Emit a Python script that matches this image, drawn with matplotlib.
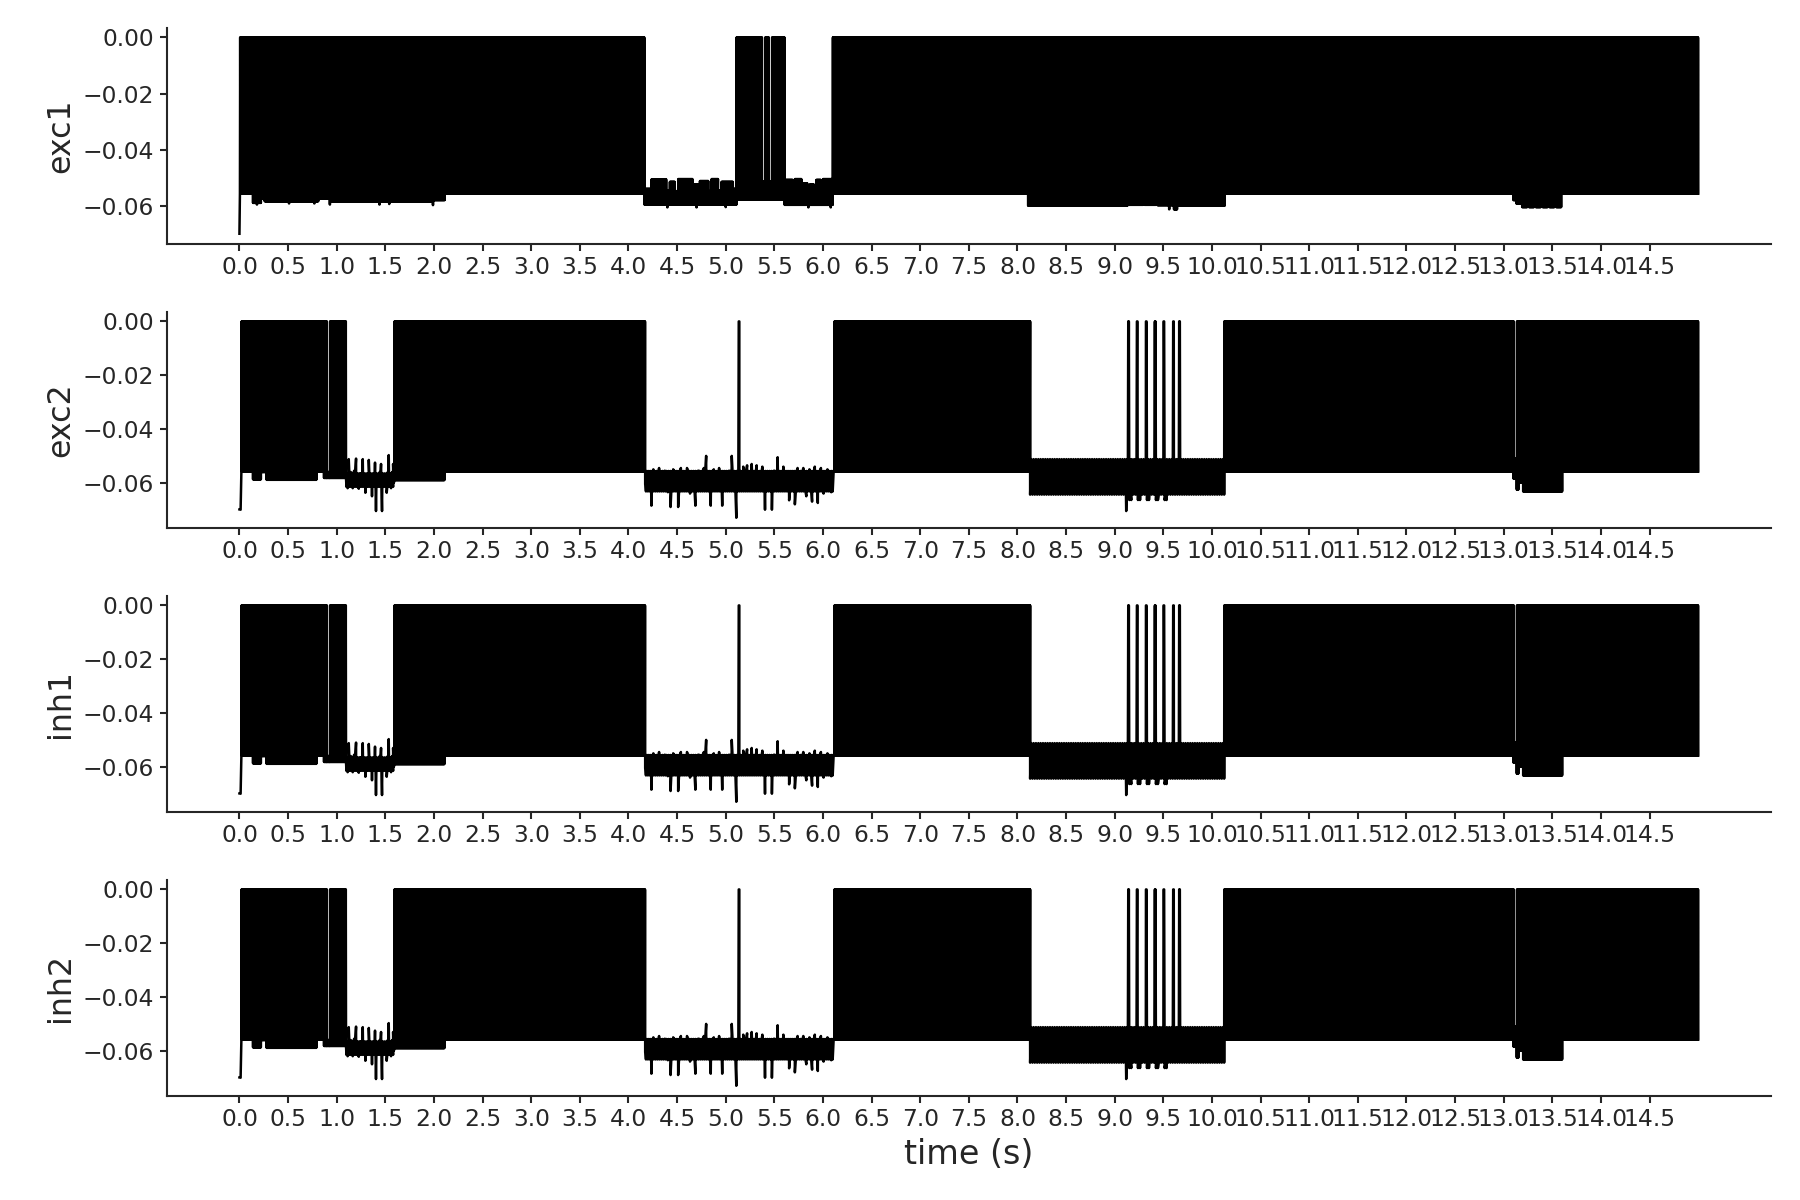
import numpy as np
import matplotlib
matplotlib.use('Agg')
import matplotlib.pyplot as plt
from matplotlib.ticker import MultipleLocator

# membrane traces.
# fire: dense spiking (t0, t1, trough, peak) -> looks like a solid block
# osc:  slower sub-threshold oscillation (t0, t1, low, high)
# pts:  single (t, v) points: start value, dips, wiggles

FIRE_STEP = 0.0025
OSC_STEP = 0.012
CORE_STEP = 0.010

exc1_fire = [
    (0.005, 0.14, -0.0557, 0.0), (0.14, 0.22, -0.0590, 0.0), (0.22, 0.26, -0.0575, 0.0),
    (0.26, 0.81, -0.0584, 0.0), (0.81, 0.93, -0.0575, 0.0), (0.93, 1.99, -0.0586, 0.0),
    (1.99, 2.11, -0.0580, 0.0), (2.11, 4.165, -0.0557, 0.0),
    # quiet band 4.17 - 5.11
    (4.165, 4.236, -0.0596, -0.0540), (4.236, 4.39, -0.0596, -0.0506),
    (4.39, 4.424, -0.0596, -0.0545), (4.424, 4.476, -0.0596, -0.0515),
    (4.476, 4.51, -0.0596, -0.0548), (4.51, 4.66, -0.0596, -0.0505),
    (4.66, 4.733, -0.0596, -0.0525), (4.733, 4.82, -0.0596, -0.0512),
    (4.82, 4.853, -0.0596, -0.0548), (4.853, 4.92, -0.0596, -0.0505),
    (4.92, 4.955, -0.0596, -0.0545), (4.955, 5.075, -0.0596, -0.0515),
    (5.075, 5.11, -0.0596, -0.0540),
    # short burst with two pauses
    (5.11, 5.372, -0.0578, 0.0), (5.372, 5.405, -0.0578, -0.0515), (5.405, 5.442, -0.0578, 0.0),
    (5.442, 5.475, -0.0578, -0.0515), (5.475, 5.606, -0.0578, 0.0),
    # quiet band 5.61 - 6.10
    (5.606, 5.69, -0.0597, -0.0508), (5.69, 5.71, -0.0597, -0.0550),
    (5.71, 5.78, -0.0597, -0.0505), (5.78, 5.84, -0.0597, -0.0520),
    (5.84, 5.86, -0.0597, -0.0552), (5.86, 5.91, -0.0597, -0.0525),
    (5.91, 5.93, -0.0597, -0.0552), (5.93, 5.98, -0.0597, -0.0508),
    (5.98, 6.0, -0.0597, -0.0550), (6.0, 6.10, -0.0597, -0.0505),
    # firing to the end
    (6.10, 8.11, -0.0557, 0.0), (8.11, 9.13, -0.0600, 0.0), (9.13, 9.15, -0.0560, 0.0),
    (9.15, 9.29, -0.0597, 0.0), (9.29, 9.31, -0.0562, 0.0), (9.31, 9.42, -0.0597, 0.0),
    (9.42, 9.44, -0.0560, 0.0), (9.44, 9.61, -0.0598, 0.0), (9.61, 9.64, -0.0613, 0.0),
    (9.64, 10.13, -0.0600, 0.0), (10.13, 13.10, -0.0557, 0.0), (13.10, 13.13, -0.0580, 0.0),
    (13.13, 13.19, -0.0592, 0.0), (13.19, 13.24, -0.0605, 0.0), (13.24, 13.26, -0.0578, 0.0),
    (13.26, 13.31, -0.0605, 0.0), (13.31, 13.33, -0.0578, 0.0), (13.33, 13.38, -0.0605, 0.0),
    (13.38, 13.40, -0.0578, 0.0), (13.40, 13.45, -0.0605, 0.0), (13.45, 13.47, -0.0578, 0.0),
    (13.47, 13.52, -0.0605, 0.0), (13.52, 13.54, -0.0578, 0.0), (13.54, 13.59, -0.0605, 0.0),
    (13.59, 15.0, -0.0557, 0.0),
]
exc1_osc = []
exc1_core = []
exc1_spikes = []
exc1_pts = [
    (0.0, -0.0700), (0.18, -0.0596), (0.51, -0.0592), (0.77, -0.0592), (0.93, -0.0596),
    (1.44, -0.0596), (1.54, -0.0594), (1.99, -0.0598), (4.40, -0.0606), (4.70, -0.0606),
    (5.00, -0.0605), (5.85, -0.0606), (6.08, -0.0606), (9.56, -0.0613),
]

exc2_fire = [
    (0.02, 0.14, -0.0558, 0.0), (0.14, 0.22, -0.0587, 0.0), (0.22, 0.28, -0.0560, 0.0),
    (0.28, 0.79, -0.0589, 0.0), (0.79, 0.87, -0.0558, 0.0), (0.87, 0.898, -0.0582, 0.0),
    (0.898, 0.930, -0.0582, -0.0560), (0.930, 1.096, -0.0582, 0.0),
    (1.593, 2.107, -0.0590, 0.0), (2.107, 4.17, -0.0558, 0.0),
    (6.117, 8.13, -0.0558, 0.0),
    (10.125, 13.102, -0.0558, 0.0), (13.102, 13.134, -0.0585, -0.0510),
    (13.134, 13.15, -0.0625, 0.0), (13.15, 13.20, -0.0598, 0.0),
    (13.20, 13.60, -0.0632, 0.0), (13.60, 15.0, -0.0558, 0.0),
]
exc2_osc = [(8.13, 10.125, -0.0644, -0.0512)]
# middle of the sub-threshold wiggles
exc2_core = [(1.10, 1.59, -0.0615, -0.0565), (4.18, 6.11, -0.0632, -0.0556)]
exc2_spikes = [5.137, 9.142, 9.231, 9.324, 9.416, 9.505, 9.604, 9.666]
exc2_pts = [
    (0.0, -0.0699), (0.012, -0.0700),
    # pause 1.10 - 1.59
    (1.100, -0.0600), (1.112, -0.0620), (1.124, -0.0512), (1.135, -0.0590), (1.145, -0.0560),
    (1.165, -0.0620), (1.180, -0.0555), (1.199, -0.0510), (1.212, -0.0605), (1.227, -0.0622),
    (1.240, -0.0565), (1.252, -0.0600), (1.268, -0.0512), (1.282, -0.0600), (1.295, -0.0637),
    (1.310, -0.0570), (1.330, -0.0515), (1.345, -0.0605), (1.363, -0.0650), (1.378, -0.0575),
    (1.394, -0.0525), (1.404, -0.0705), (1.418, -0.0585), (1.430, -0.0610), (1.442, -0.0560),
    (1.456, -0.0530), (1.466, -0.0705), (1.480, -0.0590), (1.495, -0.0610), (1.514, -0.0637),
    (1.525, -0.0560), (1.535, -0.0497), (1.547, -0.0600), (1.559, -0.0620), (1.570, -0.0560),
    (1.580, -0.0530), (1.588, -0.0600),
    # pause 4.17 - 6.11
    (4.172, -0.0605), (4.190, -0.0625), (4.236, -0.0685), (4.256, -0.0550), (4.270, -0.0600),
    (4.287, -0.0605), (4.300, -0.0560), (4.315, -0.0545), (4.342, -0.0610), (4.358, -0.0575),
    (4.374, -0.0555), (4.405, -0.0635), (4.433, -0.0690), (4.446, -0.0580), (4.460, -0.0550),
    (4.476, -0.0600), (4.492, -0.0625), (4.511, -0.0690), (4.525, -0.0570), (4.539, -0.0545),
    (4.555, -0.0600), (4.570, -0.0610), (4.586, -0.0570), (4.602, -0.0545), (4.620, -0.0620),
    (4.633, -0.0640), (4.645, -0.0580), (4.657, -0.0560), (4.672, -0.0620), (4.688, -0.0685),
    (4.705, -0.0580), (4.720, -0.0555), (4.733, -0.0600), (4.747, -0.0610), (4.760, -0.0565),
    (4.775, -0.0545), (4.799, -0.0500), (4.810, -0.0590), (4.822, -0.0620), (4.846, -0.0685),
    (4.862, -0.0570), (4.877, -0.0550), (4.890, -0.0600), (4.905, -0.0620), (4.918, -0.0570),
    (4.932, -0.0545), (4.948, -0.0610), (4.964, -0.0685), (4.980, -0.0580), (4.995, -0.0570),
    (5.015, -0.0610), (5.035, -0.0555), (5.062, -0.0500), (5.072, -0.0590), (5.082, -0.0605),
    (5.096, -0.0580), (5.109, -0.0730), (5.120, -0.0590), (5.160, -0.0610),
    (5.180, -0.0540), (5.200, -0.0600), (5.220, -0.0535), (5.239, -0.0610), (5.253, -0.0570),
    (5.267, -0.0530), (5.280, -0.0615), (5.294, -0.0600), (5.306, -0.0560), (5.318, -0.0535),
    (5.335, -0.0615), (5.349, -0.0595), (5.362, -0.0560), (5.377, -0.0540), (5.404, -0.0700),
    (5.418, -0.0580), (5.428, -0.0560), (5.444, -0.0610), (5.452, -0.0620), (5.475, -0.0700),
    (5.488, -0.0575), (5.499, -0.0555), (5.516, -0.0600), (5.534, -0.0505), (5.548, -0.0590),
    (5.562, -0.0605), (5.578, -0.0570), (5.593, -0.0540), (5.607, -0.0600), (5.621, -0.0605),
    (5.636, -0.0630), (5.652, -0.0665), (5.666, -0.0590), (5.680, -0.0560), (5.695, -0.0620),
    (5.711, -0.0680), (5.725, -0.0580), (5.739, -0.0545), (5.755, -0.0600), (5.770, -0.0605),
    (5.784, -0.0570), (5.798, -0.0545), (5.815, -0.0620), (5.829, -0.0650), (5.845, -0.0580),
    (5.861, -0.0550), (5.875, -0.0620), (5.888, -0.0670), (5.902, -0.0580), (5.916, -0.0540),
    (5.932, -0.0610), (5.947, -0.0675), (5.963, -0.0580), (5.979, -0.0545), (5.993, -0.0600),
    (6.006, -0.0640), (6.026, -0.0590), (6.046, -0.0550), (6.066, -0.0610), (6.085, -0.0635),
    (6.100, -0.0600), (6.110, -0.0555),
    # burst of spikes 9.1 - 9.7
    (9.112, -0.0560), (9.118, -0.0705), (9.126, -0.0600),
    (9.150, -0.0664), (9.170, -0.0664), (9.239, -0.0664), (9.260, -0.0664),
    (9.332, -0.0664), (9.352, -0.0664), (9.424, -0.0664), (9.444, -0.0664),
    (9.513, -0.0664), (9.533, -0.0664), (9.612, -0.0580), (9.624, -0.0600),
    (9.676, -0.0580), (9.690, -0.0600), (9.700, -0.0640),
]

# inh1 and inh2 can't be told apart from exc2 at this resolution
panels = [
    ('exc1', exc1_fire, exc1_osc, exc1_core, exc1_pts, exc1_spikes),
    ('exc2', exc2_fire, exc2_osc, exc2_core, exc2_pts, exc2_spikes),
    ('inh1', exc2_fire, exc2_osc, exc2_core, exc2_pts, exc2_spikes),
    ('inh2', exc2_fire, exc2_osc, exc2_core, exc2_pts, exc2_spikes),
]


def zigzag(t0, t1, lo, hi, step):
    n = max(int(round((t1 - t0) / step)), 1)
    t = np.linspace(t0, t1, n + 1)
    v = np.where(np.arange(n + 1) % 2 == 0, lo, hi)
    return t, v


def build_trace(fire, osc, core, pts, spikes):
    ts, vs = [], []
    for segs, step in ((fire, FIRE_STEP), (osc, OSC_STEP), (core, CORE_STEP)):
        for seg in segs:
            t, v = zigzag(*seg, step)
            ts.append(t); vs.append(v)
    for s in spikes:
        ts.append(np.array([s - 0.007, s - 0.003, s + 0.003, s + 0.007]))
        vs.append(np.array([-0.0570, 0.0, 0.0, -0.0600]))
    if pts:
        p = np.array(pts)
        ts.append(p[:, 0]); vs.append(p[:, 1])
    t = np.concatenate(ts)
    v = np.concatenate(vs)
    order = np.argsort(t, kind='stable')
    return t[order], v[order]


dark = '#262626'
fig, axes = plt.subplots(4, 1, figsize=(15, 10), dpi=120)
fig.subplots_adjust(left=0.0925, right=0.984, top=0.977, bottom=0.087, hspace=0.315)

for ax, (name, fire, osc, core, pts, spikes) in zip(axes, panels):
    t, v = build_trace(fire, osc, core, pts, spikes)
    ax.plot(t, v, color='k', lw=1.5)
    ax.set_xticks(np.arange(0, 15, 0.5))
    ax.yaxis.set_major_locator(MultipleLocator(0.02))
    ax.set_ylabel(name, fontsize=19, color=dark)
    ax.spines['top'].set_visible(False)
    ax.spines['right'].set_visible(False)
    for sp in ('left', 'bottom'):
        ax.spines[sp].set_linewidth(1.25)
        ax.spines[sp].set_color(dark)
    ax.tick_params(labelsize=14, length=4, width=1.25, color=dark, labelcolor=dark)

axes[-1].set_xlabel('time (s)', fontsize=20, color=dark)

plt.savefig('out.png', dpi=120)
